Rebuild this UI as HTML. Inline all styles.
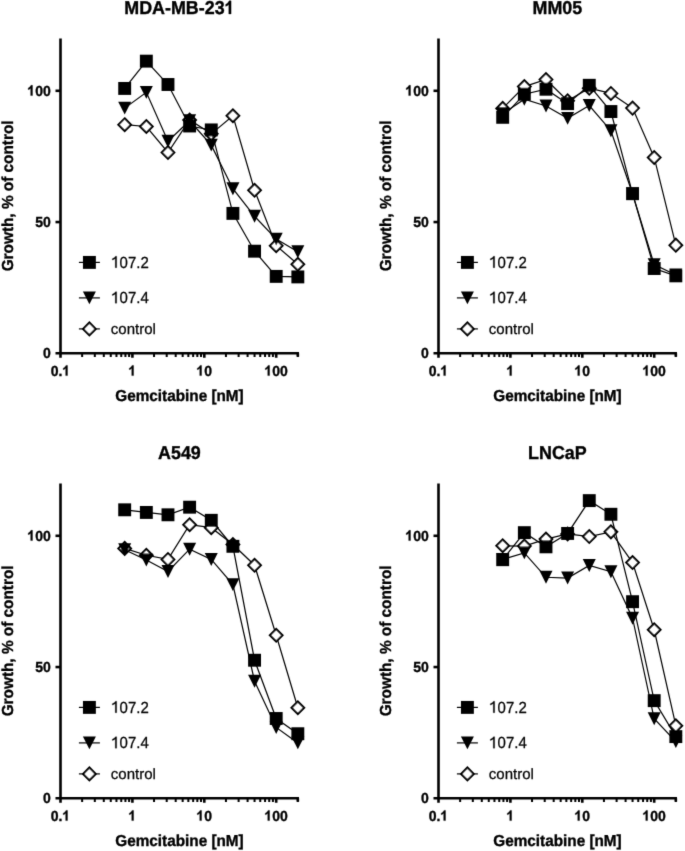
<!DOCTYPE html>
<html><head><meta charset="utf-8"><style>
html,body{margin:0;padding:0;background:#fff;}
svg{display:block;}
#w{width:685px;height:851px;}
text{font-family:"Liberation Sans",sans-serif;fill:#000;text-rendering:geometricPrecision;stroke:#000;stroke-width:0.35px;}
.t{font-size:17.9px;font-weight:bold;text-anchor:middle;}
.yl{font-size:14px;font-weight:bold;text-anchor:end;}
.xl{font-size:14px;font-weight:bold;text-anchor:middle;}
.xt{font-size:15.3px;font-weight:bold;text-anchor:middle;}
.yt{font-size:15.35px;font-weight:bold;text-anchor:middle;}
.lg{font-size:15px;stroke:#000;stroke-width:0.25px;}
.h{fill-opacity:0;stroke-opacity:0;}
.one{fill:#000;stroke:#000;}
.ax{stroke:#000;stroke-width:2.6;fill:none;}
.mn{stroke:#000;stroke-width:2;fill:none;}
.ln{stroke:#000;stroke-width:1.2;fill:none;}
.f{fill:#000;}
.d{fill:#fff;stroke:#000;stroke-width:2.1;}
</style></head><body>
<div id="w"><svg width="685" height="851" viewBox="0 0 685 851">
<defs><filter id="bl" x="0" y="0" width="685" height="851" filterUnits="userSpaceOnUse"><feConvolveMatrix order="3" kernelMatrix="0.01134 0.08382 0.01134 0.08382 0.61935 0.08382 0.01134 0.08382 0.01134" divisor="1" edgeMode="duplicate" preserveAlpha="false"/></filter></defs>
<rect width="685" height="851" fill="#fff"/>
<g filter="url(#bl)">
<g transform="translate(0,0)">
<text class="t" transform="translate(179.40,13.90) scale(1,1.04)">MDA-MB-23<tspan class="h">1</tspan></text><path class="one" transform="translate(224.639,13.90) scale(17.9,18.616)" stroke-width="0.0196" d="M0.36 0L0.232 0L0.232 -0.50Q0.15 -0.425 0.057 -0.405L0.057 -0.51Q0.19 -0.55 0.255 -0.70L0.36 -0.70Z"/>
<path class="ax" d="M60.5 38.5V357.8M55.5 353.3H299"/>
<path class="ax" d="M55.5 222.05H60.5"/>
<path class="ax" d="M55.5 90.80H60.5"/>
<text class="yl" transform="translate(50.80,358.05) scale(1,1.04)">0</text>
<text class="yl" transform="translate(50.80,226.80) scale(1,1.04)">50</text>
<text class="yl" transform="translate(50.80,95.55) scale(1,1.04)"><tspan class="h">1</tspan>00</text><path class="one" transform="translate(27.442,95.55) scale(14,14.560)" stroke-width="0.0250" d="M0.36 0L0.232 0L0.232 -0.50Q0.15 -0.425 0.057 -0.405L0.057 -0.51Q0.19 -0.55 0.255 -0.70L0.36 -0.70Z"/>
<path class="ax" d="M132.40 353.3V357.8M204.30 353.3V357.8M276.20 353.3V357.8"/>
<path class="mn" d="M82.14 353.3V356.9M94.81 353.3V356.9M103.79 353.3V356.9M110.76 353.3V356.9M116.45 353.3V356.9M121.26 353.3V356.9M125.43 353.3V356.9M129.11 353.3V356.9M154.04 353.3V356.9M166.71 353.3V356.9M175.69 353.3V356.9M182.66 353.3V356.9M188.35 353.3V356.9M193.16 353.3V356.9M197.33 353.3V356.9M201.01 353.3V356.9M225.94 353.3V356.9M238.61 353.3V356.9M247.59 353.3V356.9M254.56 353.3V356.9M260.25 353.3V356.9M265.06 353.3V356.9M269.23 353.3V356.9M272.91 353.3V356.9M297.84 353.3V356.9"/>
<path class="ax" d="M297.84 353.3V356.6"/>
<text class="xl" transform="translate(60.50,375.60) scale(1,1.04)">0.<tspan class="h">1</tspan></text><path class="one" transform="translate(62.445,375.60) scale(14,14.560)" stroke-width="0.0250" d="M0.36 0L0.232 0L0.232 -0.50Q0.15 -0.425 0.057 -0.405L0.057 -0.51Q0.19 -0.55 0.255 -0.70L0.36 -0.70Z"/>
<text class="xl" transform="translate(132.40,375.60) scale(1,1.04)"><tspan class="h">1</tspan></text><path class="one" transform="translate(128.507,375.60) scale(14,14.560)" stroke-width="0.0250" d="M0.36 0L0.232 0L0.232 -0.50Q0.15 -0.425 0.057 -0.405L0.057 -0.51Q0.19 -0.55 0.255 -0.70L0.36 -0.70Z"/>
<text class="xl" transform="translate(204.30,375.60) scale(1,1.04)"><tspan class="h">1</tspan>0</text><path class="one" transform="translate(196.514,375.60) scale(14,14.560)" stroke-width="0.0250" d="M0.36 0L0.232 0L0.232 -0.50Q0.15 -0.425 0.057 -0.405L0.057 -0.51Q0.19 -0.55 0.255 -0.70L0.36 -0.70Z"/>
<text class="xl" transform="translate(276.20,375.60) scale(1,1.04)"><tspan class="h">1</tspan>00</text><path class="one" transform="translate(264.521,375.60) scale(14,14.560)" stroke-width="0.0250" d="M0.36 0L0.232 0L0.232 -0.50Q0.15 -0.425 0.057 -0.405L0.057 -0.51Q0.19 -0.55 0.255 -0.70L0.36 -0.70Z"/>
<text class="xt" transform="translate(179.50,401.30) scale(1,1.04)">Gemcitabine [nM]</text>
<text class="yt" transform="translate(12.60,195.90) rotate(-90) scale(1,1.04)">Growth, % of control</text>
<path class="ln" d="M124.69 124.66L146.34 126.50L167.98 152.49L189.62 119.94L211.27 133.85L232.91 115.74L254.56 190.29L276.20 245.68L297.84 264.31"/>
<g class="d"><path d="M124.69 118.36L130.99 124.66L124.69 130.96L118.39 124.66Z"/><path d="M146.34 120.20L152.64 126.50L146.34 132.80L140.04 126.50Z"/><path d="M167.98 146.19L174.28 152.49L167.98 158.79L161.68 152.49Z"/><path d="M189.62 113.64L195.92 119.94L189.62 126.24L183.32 119.94Z"/><path d="M211.27 127.55L217.57 133.85L211.27 140.15L204.97 133.85Z"/><path d="M232.91 109.44L239.21 115.74L232.91 122.04L226.61 115.74Z"/><path d="M254.56 183.99L260.86 190.29L254.56 196.59L248.26 190.29Z"/><path d="M276.20 239.38L282.50 245.68L276.20 251.98L269.90 245.68Z"/><path d="M297.84 258.01L304.14 264.31L297.84 270.61L291.54 264.31Z"/></g>
<path class="ln" d="M124.69 108.12L146.34 92.38L167.98 141.20L189.62 120.73L211.27 145.14L232.91 188.71L254.56 216.28L276.20 239.11L297.84 251.71"/>
<g class="f"><path d="M118.19 101.67H131.19L124.69 114.58Z"/><path d="M139.84 85.92H152.84L146.34 98.83Z"/><path d="M161.48 134.75H174.48L167.98 147.65Z"/><path d="M183.12 114.28H196.12L189.62 127.18Z"/><path d="M204.77 138.69H217.77L211.27 151.59Z"/><path d="M226.41 182.26H239.41L232.91 195.16Z"/><path d="M248.06 209.83H261.06L254.56 222.72Z"/><path d="M269.70 232.66H282.70L276.20 245.56Z"/><path d="M291.34 245.26H304.34L297.84 258.16Z"/></g>
<path class="ln" d="M124.69 88.44L146.34 61.14L167.98 84.50L189.62 125.98L211.27 129.91L232.91 213.39L254.56 251.19L276.20 276.39L297.84 276.91"/>
<g class="f"><rect x="118.24" y="81.99" width="12.90" height="12.90"/><rect x="139.89" y="54.69" width="12.90" height="12.90"/><rect x="161.53" y="78.05" width="12.90" height="12.90"/><rect x="183.17" y="119.53" width="12.90" height="12.90"/><rect x="204.82" y="123.46" width="12.90" height="12.90"/><rect x="226.46" y="206.94" width="12.90" height="12.90"/><rect x="248.11" y="244.74" width="12.90" height="12.90"/><rect x="269.75" y="269.94" width="12.90" height="12.90"/><rect x="291.39" y="270.46" width="12.90" height="12.90"/></g>
<path class="ln" d="M78.9 262.4H99.9"/>
<g class="f"><rect x="82.95" y="255.95" width="12.90" height="12.90"/></g>
<text class="lg" transform="translate(111.20,267.70) scale(1,1.07)"><tspan class="h">1</tspan>07.2</text><path class="one" transform="translate(111.200,267.70) scale(15,16.050)" stroke-width="0.0167" d="M0.365 0L0.27 0L0.27 -0.575Q0.18 -0.50 0.073 -0.475L0.073 -0.56Q0.225 -0.60 0.29 -0.716L0.365 -0.716Z"/>
<path class="ln" d="M78.9 297.9H99.9"/>
<g class="f"><path d="M82.90 291.45H95.90L89.40 304.35Z"/></g>
<text class="lg" transform="translate(111.20,303.20) scale(1,1.07)"><tspan class="h">1</tspan>07.4</text><path class="one" transform="translate(111.200,303.20) scale(15,16.050)" stroke-width="0.0167" d="M0.365 0L0.27 0L0.27 -0.575Q0.18 -0.50 0.073 -0.475L0.073 -0.56Q0.225 -0.60 0.29 -0.716L0.365 -0.716Z"/>
<path class="ln" d="M78.9 328.9H99.9"/>
<g class="d"><path d="M89.40 322.60L95.70 328.90L89.40 335.20L83.10 328.90Z"/></g>
<text class="lg" transform="translate(110.80,334.20) scale(1,1.0)">control</text>
</g>
<g transform="translate(378,0)">
<text class="t" transform="translate(179.40,13.90) scale(1,1.04)">MM05</text>
<path class="ax" d="M60.5 38.5V357.8M55.5 353.3H299"/>
<path class="ax" d="M55.5 222.05H60.5"/>
<path class="ax" d="M55.5 90.80H60.5"/>
<text class="yl" transform="translate(50.80,358.05) scale(1,1.04)">0</text>
<text class="yl" transform="translate(50.80,226.80) scale(1,1.04)">50</text>
<text class="yl" transform="translate(50.80,95.55) scale(1,1.04)"><tspan class="h">1</tspan>00</text><path class="one" transform="translate(27.442,95.55) scale(14,14.560)" stroke-width="0.0250" d="M0.36 0L0.232 0L0.232 -0.50Q0.15 -0.425 0.057 -0.405L0.057 -0.51Q0.19 -0.55 0.255 -0.70L0.36 -0.70Z"/>
<path class="ax" d="M132.40 353.3V357.8M204.30 353.3V357.8M276.20 353.3V357.8"/>
<path class="mn" d="M82.14 353.3V356.9M94.81 353.3V356.9M103.79 353.3V356.9M110.76 353.3V356.9M116.45 353.3V356.9M121.26 353.3V356.9M125.43 353.3V356.9M129.11 353.3V356.9M154.04 353.3V356.9M166.71 353.3V356.9M175.69 353.3V356.9M182.66 353.3V356.9M188.35 353.3V356.9M193.16 353.3V356.9M197.33 353.3V356.9M201.01 353.3V356.9M225.94 353.3V356.9M238.61 353.3V356.9M247.59 353.3V356.9M254.56 353.3V356.9M260.25 353.3V356.9M265.06 353.3V356.9M269.23 353.3V356.9M272.91 353.3V356.9M297.84 353.3V356.9"/>
<path class="ax" d="M297.84 353.3V356.6"/>
<text class="xl" transform="translate(60.50,375.60) scale(1,1.04)">0.<tspan class="h">1</tspan></text><path class="one" transform="translate(62.445,375.60) scale(14,14.560)" stroke-width="0.0250" d="M0.36 0L0.232 0L0.232 -0.50Q0.15 -0.425 0.057 -0.405L0.057 -0.51Q0.19 -0.55 0.255 -0.70L0.36 -0.70Z"/>
<text class="xl" transform="translate(132.40,375.60) scale(1,1.04)"><tspan class="h">1</tspan></text><path class="one" transform="translate(128.507,375.60) scale(14,14.560)" stroke-width="0.0250" d="M0.36 0L0.232 0L0.232 -0.50Q0.15 -0.425 0.057 -0.405L0.057 -0.51Q0.19 -0.55 0.255 -0.70L0.36 -0.70Z"/>
<text class="xl" transform="translate(204.30,375.60) scale(1,1.04)"><tspan class="h">1</tspan>0</text><path class="one" transform="translate(196.514,375.60) scale(14,14.560)" stroke-width="0.0250" d="M0.36 0L0.232 0L0.232 -0.50Q0.15 -0.425 0.057 -0.405L0.057 -0.51Q0.19 -0.55 0.255 -0.70L0.36 -0.70Z"/>
<text class="xl" transform="translate(276.20,375.60) scale(1,1.04)"><tspan class="h">1</tspan>00</text><path class="one" transform="translate(264.521,375.60) scale(14,14.560)" stroke-width="0.0250" d="M0.36 0L0.232 0L0.232 -0.50Q0.15 -0.425 0.057 -0.405L0.057 -0.51Q0.19 -0.55 0.255 -0.70L0.36 -0.70Z"/>
<text class="xt" transform="translate(179.50,401.30) scale(1,1.04)">Gemcitabine [nM]</text>
<text class="yt" transform="translate(12.60,195.90) rotate(-90) scale(1,1.04)">Growth, % of control</text>
<path class="ln" d="M124.69 108.39L146.34 86.60L167.98 79.51L189.62 100.78L211.27 88.18L232.91 93.43L254.56 108.12L276.20 157.48L297.84 245.15"/>
<g class="d"><path d="M124.69 102.09L130.99 108.39L124.69 114.69L118.39 108.39Z"/><path d="M146.34 80.30L152.64 86.60L146.34 92.90L140.04 86.60Z"/><path d="M167.98 73.21L174.28 79.51L167.98 85.81L161.68 79.51Z"/><path d="M189.62 94.48L195.92 100.78L189.62 107.08L183.32 100.78Z"/><path d="M211.27 81.88L217.57 88.18L211.27 94.48L204.97 88.18Z"/><path d="M232.91 87.13L239.21 93.43L232.91 99.73L226.61 93.43Z"/><path d="M254.56 101.83L260.86 108.12L254.56 114.42L248.26 108.12Z"/><path d="M276.20 151.18L282.50 157.48L276.20 163.78L269.90 157.48Z"/><path d="M297.84 238.85L304.14 245.15L297.84 251.45L291.54 245.15Z"/></g>
<path class="ln" d="M124.69 113.64L146.34 99.20L167.98 106.03L189.62 118.36L211.27 105.50L232.91 130.70L254.56 193.70L276.20 264.58L297.84 275.07"/>
<g class="f"><path d="M118.19 107.19H131.19L124.69 120.09Z"/><path d="M139.84 92.75H152.84L146.34 105.65Z"/><path d="M161.48 99.58H174.48L167.98 112.48Z"/><path d="M183.12 111.91H196.12L189.62 124.81Z"/><path d="M204.77 99.05H217.77L211.27 111.95Z"/><path d="M226.41 124.25H239.41L232.91 137.15Z"/><path d="M248.06 187.25H261.06L254.56 200.15Z"/><path d="M269.70 258.13H282.70L276.20 271.03Z"/><path d="M291.34 268.62H304.34L297.84 281.52Z"/></g>
<path class="ln" d="M124.69 117.31L146.34 94.21L167.98 89.23L189.62 103.66L211.27 85.29L232.91 111.54L254.56 193.70L276.20 268.51L297.84 275.86"/>
<g class="f"><rect x="118.24" y="110.86" width="12.90" height="12.90"/><rect x="139.89" y="87.76" width="12.90" height="12.90"/><rect x="161.53" y="82.78" width="12.90" height="12.90"/><rect x="183.17" y="97.21" width="12.90" height="12.90"/><rect x="204.82" y="78.84" width="12.90" height="12.90"/><rect x="226.46" y="105.09" width="12.90" height="12.90"/><rect x="248.11" y="187.25" width="12.90" height="12.90"/><rect x="269.75" y="262.06" width="12.90" height="12.90"/><rect x="291.39" y="269.41" width="12.90" height="12.90"/></g>
<path class="ln" d="M78.9 262.4H99.9"/>
<g class="f"><rect x="82.95" y="255.95" width="12.90" height="12.90"/></g>
<text class="lg" transform="translate(111.20,267.70) scale(1,1.07)"><tspan class="h">1</tspan>07.2</text><path class="one" transform="translate(111.200,267.70) scale(15,16.050)" stroke-width="0.0167" d="M0.365 0L0.27 0L0.27 -0.575Q0.18 -0.50 0.073 -0.475L0.073 -0.56Q0.225 -0.60 0.29 -0.716L0.365 -0.716Z"/>
<path class="ln" d="M78.9 297.9H99.9"/>
<g class="f"><path d="M82.90 291.45H95.90L89.40 304.35Z"/></g>
<text class="lg" transform="translate(111.20,303.20) scale(1,1.07)"><tspan class="h">1</tspan>07.4</text><path class="one" transform="translate(111.200,303.20) scale(15,16.050)" stroke-width="0.0167" d="M0.365 0L0.27 0L0.27 -0.575Q0.18 -0.50 0.073 -0.475L0.073 -0.56Q0.225 -0.60 0.29 -0.716L0.365 -0.716Z"/>
<path class="ln" d="M78.9 328.9H99.9"/>
<g class="d"><path d="M89.40 322.60L95.70 328.90L89.40 335.20L83.10 328.90Z"/></g>
<text class="lg" transform="translate(110.80,334.20) scale(1,1.0)">control</text>
</g>
<g transform="translate(0,445)">
<text class="t" transform="translate(179.40,13.90) scale(1,1.04)">A549</text>
<path class="ax" d="M60.5 38.5V357.8M55.5 353.3H299"/>
<path class="ax" d="M55.5 222.05H60.5"/>
<path class="ax" d="M55.5 90.80H60.5"/>
<text class="yl" transform="translate(50.80,358.05) scale(1,1.04)">0</text>
<text class="yl" transform="translate(50.80,226.80) scale(1,1.04)">50</text>
<text class="yl" transform="translate(50.80,95.55) scale(1,1.04)"><tspan class="h">1</tspan>00</text><path class="one" transform="translate(27.442,95.55) scale(14,14.560)" stroke-width="0.0250" d="M0.36 0L0.232 0L0.232 -0.50Q0.15 -0.425 0.057 -0.405L0.057 -0.51Q0.19 -0.55 0.255 -0.70L0.36 -0.70Z"/>
<path class="ax" d="M132.40 353.3V357.8M204.30 353.3V357.8M276.20 353.3V357.8"/>
<path class="mn" d="M82.14 353.3V356.9M94.81 353.3V356.9M103.79 353.3V356.9M110.76 353.3V356.9M116.45 353.3V356.9M121.26 353.3V356.9M125.43 353.3V356.9M129.11 353.3V356.9M154.04 353.3V356.9M166.71 353.3V356.9M175.69 353.3V356.9M182.66 353.3V356.9M188.35 353.3V356.9M193.16 353.3V356.9M197.33 353.3V356.9M201.01 353.3V356.9M225.94 353.3V356.9M238.61 353.3V356.9M247.59 353.3V356.9M254.56 353.3V356.9M260.25 353.3V356.9M265.06 353.3V356.9M269.23 353.3V356.9M272.91 353.3V356.9M297.84 353.3V356.9"/>
<path class="ax" d="M297.84 353.3V356.6"/>
<text class="xl" transform="translate(60.50,375.60) scale(1,1.04)">0.<tspan class="h">1</tspan></text><path class="one" transform="translate(62.445,375.60) scale(14,14.560)" stroke-width="0.0250" d="M0.36 0L0.232 0L0.232 -0.50Q0.15 -0.425 0.057 -0.405L0.057 -0.51Q0.19 -0.55 0.255 -0.70L0.36 -0.70Z"/>
<text class="xl" transform="translate(132.40,375.60) scale(1,1.04)"><tspan class="h">1</tspan></text><path class="one" transform="translate(128.507,375.60) scale(14,14.560)" stroke-width="0.0250" d="M0.36 0L0.232 0L0.232 -0.50Q0.15 -0.425 0.057 -0.405L0.057 -0.51Q0.19 -0.55 0.255 -0.70L0.36 -0.70Z"/>
<text class="xl" transform="translate(204.30,375.60) scale(1,1.04)"><tspan class="h">1</tspan>0</text><path class="one" transform="translate(196.514,375.60) scale(14,14.560)" stroke-width="0.0250" d="M0.36 0L0.232 0L0.232 -0.50Q0.15 -0.425 0.057 -0.405L0.057 -0.51Q0.19 -0.55 0.255 -0.70L0.36 -0.70Z"/>
<text class="xl" transform="translate(276.20,375.60) scale(1,1.04)"><tspan class="h">1</tspan>00</text><path class="one" transform="translate(264.521,375.60) scale(14,14.560)" stroke-width="0.0250" d="M0.36 0L0.232 0L0.232 -0.50Q0.15 -0.425 0.057 -0.405L0.057 -0.51Q0.19 -0.55 0.255 -0.70L0.36 -0.70Z"/>
<text class="xt" transform="translate(179.50,401.30) scale(1,1.04)">Gemcitabine [nM]</text>
<text class="yt" transform="translate(12.60,195.90) rotate(-90) scale(1,1.04)">Growth, % of control</text>
<path class="ln" d="M124.69 103.40L146.34 110.23L167.98 114.43L189.62 79.77L211.27 82.66L232.91 99.46L254.56 120.20L276.20 190.29L297.84 262.74"/>
<g class="d"><path d="M124.69 97.10L130.99 103.40L124.69 109.70L118.39 103.40Z"/><path d="M146.34 103.93L152.64 110.23L146.34 116.53L140.04 110.23Z"/><path d="M167.98 108.13L174.28 114.43L167.98 120.73L161.68 114.43Z"/><path d="M189.62 73.47L195.92 79.77L189.62 86.07L183.32 79.77Z"/><path d="M211.27 76.36L217.57 82.66L211.27 88.96L204.97 82.66Z"/><path d="M232.91 93.16L239.21 99.46L232.91 105.76L226.61 99.46Z"/><path d="M254.56 113.90L260.86 120.20L254.56 126.50L248.26 120.20Z"/><path d="M276.20 183.99L282.50 190.29L276.20 196.59L269.90 190.29Z"/><path d="M297.84 256.44L304.14 262.74L297.84 269.04L291.54 262.74Z"/></g>
<path class="ln" d="M124.69 104.71L146.34 114.95L167.98 126.50L189.62 104.19L211.27 114.43L232.91 139.62L254.56 236.23L276.20 282.43L297.84 297.91"/>
<g class="f"><path d="M118.19 98.26H131.19L124.69 111.16Z"/><path d="M139.84 108.50H152.84L146.34 121.40Z"/><path d="M161.48 120.05H174.48L167.98 132.95Z"/><path d="M183.12 97.74H196.12L189.62 110.64Z"/><path d="M204.77 107.98H217.77L211.27 120.88Z"/><path d="M226.41 133.18H239.41L232.91 146.07Z"/><path d="M248.06 229.78H261.06L254.56 242.68Z"/><path d="M269.70 275.98H282.70L276.20 288.88Z"/><path d="M291.34 291.46H304.34L297.84 304.36Z"/></g>
<path class="ln" d="M124.69 64.81L146.34 67.44L167.98 69.80L189.62 62.19L211.27 75.31L232.91 101.30L254.56 215.22L276.20 273.50L297.84 288.73"/>
<g class="f"><rect x="118.24" y="58.36" width="12.90" height="12.90"/><rect x="139.89" y="60.99" width="12.90" height="12.90"/><rect x="161.53" y="63.35" width="12.90" height="12.90"/><rect x="183.17" y="55.74" width="12.90" height="12.90"/><rect x="204.82" y="68.86" width="12.90" height="12.90"/><rect x="226.46" y="94.85" width="12.90" height="12.90"/><rect x="248.11" y="208.78" width="12.90" height="12.90"/><rect x="269.75" y="267.05" width="12.90" height="12.90"/><rect x="291.39" y="282.28" width="12.90" height="12.90"/></g>
<path class="ln" d="M78.9 262.4H99.9"/>
<g class="f"><rect x="82.95" y="255.95" width="12.90" height="12.90"/></g>
<text class="lg" transform="translate(111.20,267.70) scale(1,1.07)"><tspan class="h">1</tspan>07.2</text><path class="one" transform="translate(111.200,267.70) scale(15,16.050)" stroke-width="0.0167" d="M0.365 0L0.27 0L0.27 -0.575Q0.18 -0.50 0.073 -0.475L0.073 -0.56Q0.225 -0.60 0.29 -0.716L0.365 -0.716Z"/>
<path class="ln" d="M78.9 297.9H99.9"/>
<g class="f"><path d="M82.90 291.45H95.90L89.40 304.35Z"/></g>
<text class="lg" transform="translate(111.20,303.20) scale(1,1.07)"><tspan class="h">1</tspan>07.4</text><path class="one" transform="translate(111.200,303.20) scale(15,16.050)" stroke-width="0.0167" d="M0.365 0L0.27 0L0.27 -0.575Q0.18 -0.50 0.073 -0.475L0.073 -0.56Q0.225 -0.60 0.29 -0.716L0.365 -0.716Z"/>
<path class="ln" d="M78.9 328.9H99.9"/>
<g class="d"><path d="M89.40 322.60L95.70 328.90L89.40 335.20L83.10 328.90Z"/></g>
<text class="lg" transform="translate(110.80,334.20) scale(1,1.0)">control</text>
</g>
<g transform="translate(378,445)">
<text class="t" transform="translate(179.40,13.90) scale(1,1.04)">LNCaP</text>
<path class="ax" d="M60.5 38.5V357.8M55.5 353.3H299"/>
<path class="ax" d="M55.5 222.05H60.5"/>
<path class="ax" d="M55.5 90.80H60.5"/>
<text class="yl" transform="translate(50.80,358.05) scale(1,1.04)">0</text>
<text class="yl" transform="translate(50.80,226.80) scale(1,1.04)">50</text>
<text class="yl" transform="translate(50.80,95.55) scale(1,1.04)"><tspan class="h">1</tspan>00</text><path class="one" transform="translate(27.442,95.55) scale(14,14.560)" stroke-width="0.0250" d="M0.36 0L0.232 0L0.232 -0.50Q0.15 -0.425 0.057 -0.405L0.057 -0.51Q0.19 -0.55 0.255 -0.70L0.36 -0.70Z"/>
<path class="ax" d="M132.40 353.3V357.8M204.30 353.3V357.8M276.20 353.3V357.8"/>
<path class="mn" d="M82.14 353.3V356.9M94.81 353.3V356.9M103.79 353.3V356.9M110.76 353.3V356.9M116.45 353.3V356.9M121.26 353.3V356.9M125.43 353.3V356.9M129.11 353.3V356.9M154.04 353.3V356.9M166.71 353.3V356.9M175.69 353.3V356.9M182.66 353.3V356.9M188.35 353.3V356.9M193.16 353.3V356.9M197.33 353.3V356.9M201.01 353.3V356.9M225.94 353.3V356.9M238.61 353.3V356.9M247.59 353.3V356.9M254.56 353.3V356.9M260.25 353.3V356.9M265.06 353.3V356.9M269.23 353.3V356.9M272.91 353.3V356.9M297.84 353.3V356.9"/>
<path class="ax" d="M297.84 353.3V356.6"/>
<text class="xl" transform="translate(60.50,375.60) scale(1,1.04)">0.<tspan class="h">1</tspan></text><path class="one" transform="translate(62.445,375.60) scale(14,14.560)" stroke-width="0.0250" d="M0.36 0L0.232 0L0.232 -0.50Q0.15 -0.425 0.057 -0.405L0.057 -0.51Q0.19 -0.55 0.255 -0.70L0.36 -0.70Z"/>
<text class="xl" transform="translate(132.40,375.60) scale(1,1.04)"><tspan class="h">1</tspan></text><path class="one" transform="translate(128.507,375.60) scale(14,14.560)" stroke-width="0.0250" d="M0.36 0L0.232 0L0.232 -0.50Q0.15 -0.425 0.057 -0.405L0.057 -0.51Q0.19 -0.55 0.255 -0.70L0.36 -0.70Z"/>
<text class="xl" transform="translate(204.30,375.60) scale(1,1.04)"><tspan class="h">1</tspan>0</text><path class="one" transform="translate(196.514,375.60) scale(14,14.560)" stroke-width="0.0250" d="M0.36 0L0.232 0L0.232 -0.50Q0.15 -0.425 0.057 -0.405L0.057 -0.51Q0.19 -0.55 0.255 -0.70L0.36 -0.70Z"/>
<text class="xl" transform="translate(276.20,375.60) scale(1,1.04)"><tspan class="h">1</tspan>00</text><path class="one" transform="translate(264.521,375.60) scale(14,14.560)" stroke-width="0.0250" d="M0.36 0L0.232 0L0.232 -0.50Q0.15 -0.425 0.057 -0.405L0.057 -0.51Q0.19 -0.55 0.255 -0.70L0.36 -0.70Z"/>
<text class="xt" transform="translate(179.50,401.30) scale(1,1.04)">Gemcitabine [nM]</text>
<text class="yt" transform="translate(12.60,195.90) rotate(-90) scale(1,1.04)">Growth, % of control</text>
<path class="ln" d="M124.69 100.78L146.34 101.04L167.98 94.08L189.62 88.96L211.27 91.59L232.91 86.86L254.56 117.58L276.20 184.78L297.84 280.72"/>
<g class="d"><path d="M124.69 94.48L130.99 100.78L124.69 107.08L118.39 100.78Z"/><path d="M146.34 94.74L152.64 101.04L146.34 107.34L140.04 101.04Z"/><path d="M167.98 87.78L174.28 94.08L167.98 100.38L161.68 94.08Z"/><path d="M189.62 82.66L195.92 88.96L189.62 95.26L183.32 88.96Z"/><path d="M211.27 85.29L217.57 91.59L211.27 97.89L204.97 91.59Z"/><path d="M232.91 80.56L239.21 86.86L232.91 93.16L226.61 86.86Z"/><path d="M254.56 111.28L260.86 117.58L254.56 123.88L248.26 117.58Z"/><path d="M276.20 178.47L282.50 184.78L276.20 191.08L269.90 184.78Z"/><path d="M297.84 274.42L304.14 280.72L297.84 287.02L291.54 280.72Z"/></g>
<path class="ln" d="M124.69 114.43L146.34 107.86L167.98 132.28L189.62 133.06L211.27 120.46L232.91 126.76L254.56 173.23L276.20 273.76L297.84 296.60"/>
<g class="f"><path d="M118.19 107.98H131.19L124.69 120.88Z"/><path d="M139.84 101.41H152.84L146.34 114.31Z"/><path d="M161.48 125.83H174.48L167.98 138.72Z"/><path d="M183.12 126.61H196.12L189.62 139.51Z"/><path d="M204.77 114.01H217.77L211.27 126.91Z"/><path d="M226.41 120.31H239.41L232.91 133.21Z"/><path d="M248.06 166.78H261.06L254.56 179.68Z"/><path d="M269.70 267.31H282.70L276.20 280.21Z"/><path d="M291.34 290.15H304.34L297.84 303.05Z"/></g>
<path class="ln" d="M124.69 114.69L146.34 87.65L167.98 101.83L189.62 88.44L211.27 55.62L232.91 69.27L254.56 156.69L276.20 255.65L297.84 291.61"/>
<g class="f"><rect x="118.24" y="108.24" width="12.90" height="12.90"/><rect x="139.89" y="81.20" width="12.90" height="12.90"/><rect x="161.53" y="95.38" width="12.90" height="12.90"/><rect x="183.17" y="81.99" width="12.90" height="12.90"/><rect x="204.82" y="49.17" width="12.90" height="12.90"/><rect x="226.46" y="62.82" width="12.90" height="12.90"/><rect x="248.11" y="150.24" width="12.90" height="12.90"/><rect x="269.75" y="249.20" width="12.90" height="12.90"/><rect x="291.39" y="285.16" width="12.90" height="12.90"/></g>
<path class="ln" d="M78.9 262.4H99.9"/>
<g class="f"><rect x="82.95" y="255.95" width="12.90" height="12.90"/></g>
<text class="lg" transform="translate(111.20,267.70) scale(1,1.07)"><tspan class="h">1</tspan>07.2</text><path class="one" transform="translate(111.200,267.70) scale(15,16.050)" stroke-width="0.0167" d="M0.365 0L0.27 0L0.27 -0.575Q0.18 -0.50 0.073 -0.475L0.073 -0.56Q0.225 -0.60 0.29 -0.716L0.365 -0.716Z"/>
<path class="ln" d="M78.9 297.9H99.9"/>
<g class="f"><path d="M82.90 291.45H95.90L89.40 304.35Z"/></g>
<text class="lg" transform="translate(111.20,303.20) scale(1,1.07)"><tspan class="h">1</tspan>07.4</text><path class="one" transform="translate(111.200,303.20) scale(15,16.050)" stroke-width="0.0167" d="M0.365 0L0.27 0L0.27 -0.575Q0.18 -0.50 0.073 -0.475L0.073 -0.56Q0.225 -0.60 0.29 -0.716L0.365 -0.716Z"/>
<path class="ln" d="M78.9 328.9H99.9"/>
<g class="d"><path d="M89.40 322.60L95.70 328.90L89.40 335.20L83.10 328.90Z"/></g>
<text class="lg" transform="translate(110.80,334.20) scale(1,1.0)">control</text>
</g>
</g>
</svg></div>
</body></html>
